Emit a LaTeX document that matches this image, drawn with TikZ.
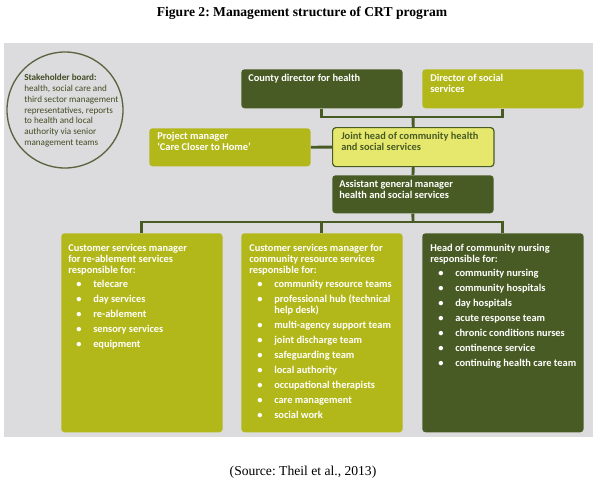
\documentclass[tikz,border=0pt]{standalone}
\usepackage{fontspec}
\setmainfont{Liberation Serif}
\newfontfamily\orgfont{Carlito}
\usepackage{tikz}

\newcommand{\orgitem}[1]{\hspace*{6pt}\makebox[12.75pt][l]{\textbullet}#1}
\newcommand{\orgwrap}[1]{\hspace*{18.75pt}#1}

\begin{document}
\frenchspacing
\begin{tikzpicture}[x=0.75pt,y=0.75pt,yscale=-1,xscale=1,
  orgbox/.style={rounded corners=2.5pt, inner sep=0pt, anchor=north west,
    minimum width=121pt},
  darkbox/.style={orgbox, fill={rgb,255:red,73;green,91;blue,36}},
  olivebox/.style={orgbox, fill={rgb,255:red,179;green,184;blue,26}},
  palebox/.style={orgbox, fill={rgb,255:red,230;green,232;blue,110},
    draw={rgb,255:red,73;green,91;blue,36}, line width=0.9pt},
  boxtext/.style={anchor=north west, inner sep=0pt, align=left, text=white,
    font=\orgfont\bfseries\fontsize{7.8}{8.25}\selectfont},
  link/.style={draw={rgb,255:red,73;green,91;blue,36}, line width=2.2pt}]
  % background and bounding box
  \useasboundingbox (0,0) rectangle (596,483);
  \fill [fill={rgb,255:red,220;green,220;blue,222}] (4,43) rectangle (593,437);
  \node (title) at (302,13) {\bfseries\fontsize{10.2}{12}\selectfont Figure 2: Management structure of CRT program};
  \node (source) at (303,472) {\fontsize{10.2}{12}\selectfont (Source: Theil et al., 2013)};

  % stakeholder board
  \node [circle, draw={rgb,255:red,90;green,100;blue,64}, line width=1pt,
    minimum size=87pt, inner sep=0pt] (board) at (65,110) {};
  \node [anchor=north west, inner sep=0pt, align=left,
    text={rgb,255:red,66;green,76;blue,36},
    font=\orgfont\fontsize{6.85}{8.1}\selectfont] (boardtext) at (24,74)
    {\textbf{Stakeholder board:}\\health, social care and\\third sector management\\representatives, reports\\to health and local\\authority via senior\\management teams};

  % boxes
  \node [darkbox, minimum height=29.25pt] (county) at (241,69) {};
  \node [olivebox, minimum height=29.25pt] (socdir) at (422,69) {};
  \node [olivebox, minimum height=28.5pt] (project) at (149,128) {};
  \node [palebox, minimum height=29.25pt] (joint) at (332,127) {};
  \node [darkbox, minimum height=28.5pt] (agm) at (332,175) {};
  \node [olivebox, minimum height=149.25pt] (csleft) at (61,233) {};
  \node [olivebox, minimum height=149.25pt] (csmid) at (241,233) {};
  \node [darkbox, minimum height=149.25pt] (nursing) at (422,233) {};

  % connectors
  \coordinate (topbar) at (413,117);
  \coordinate (lowbar) at (413,222);
  \draw [link] (county.south) |- (topbar) -| (socdir.south);
  \draw [link] (topbar) -- (joint.north);
  \draw [link] (project.east) -- (joint.west);
  \draw [link] (joint.south) -- (agm.north);
  \draw [link] (agm.south) -- (lowbar);
  \draw [link] (csleft.north) |- (lowbar) -| (nursing.north);
  \draw [link] (csmid.north) -- (csmid.north |- lowbar);

  % box texts
  \node [boxtext] (countytext) at (248,73.5) {County director for health};
  \node [boxtext] (socdirtext) at (430,73.5) {Director of social\\services};
  \node [boxtext] (projecttext) at (157,131.5) {Project manager\\‘Care Closer to Home’};
  \node [boxtext, text={rgb,255:red,73;green,91;blue,36}] (jointtext) at (341,131.5)
    {Joint head of community health\\and social services};
  \node [boxtext] (agmtext) at (339,179.5) {Assistant general manager\\health and social services};
  \node [boxtext] (cslefttext) at (68,243.5)
    {Customer services manager\\for re-ablement services\\responsible for:\\[2.25pt]
     \orgitem{telecare}\\[3pt]
     \orgitem{day services}\\[3pt]
     \orgitem{re-ablement}\\[3pt]
     \orgitem{sensory services}\\[3pt]
     \orgitem{equipment}};
  \node [boxtext] (csmidtext) at (249,243.5)
    {Customer services manager for\\community resource services\\responsible for:\\[2.25pt]
     \orgitem{community resource teams}\\[3pt]
     \orgitem{professional hub (technical}\\
     \orgwrap{help desk)}\\[3pt]
     \orgitem{multi-agency support team}\\[3pt]
     \orgitem{joint discharge team}\\[3pt]
     \orgitem{safeguarding team}\\[3pt]
     \orgitem{local authority}\\[3pt]
     \orgitem{occupational therapists}\\[3pt]
     \orgitem{care management}\\[3pt]
     \orgitem{social work}};
  \node [boxtext] (nursingtext) at (430,243.5)
    {Head of community nursing\\responsible for:\\[2.25pt]
     \orgitem{community nursing}\\[3pt]
     \orgitem{community hospitals}\\[3pt]
     \orgitem{day hospitals}\\[3pt]
     \orgitem{acute response team}\\[3pt]
     \orgitem{chronic conditions nurses}\\[3pt]
     \orgitem{continence service}\\[3pt]
     \orgitem{continuing health care team}};
\end{tikzpicture}
\end{document}
